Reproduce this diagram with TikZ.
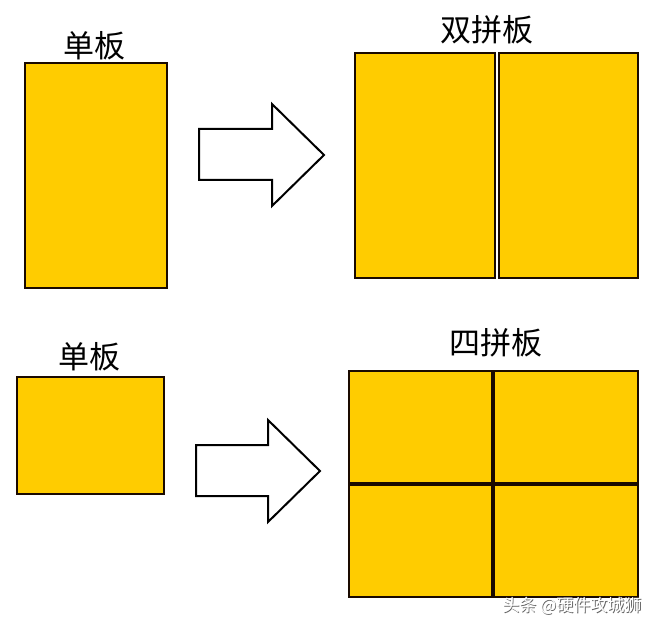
\documentclass[tikz,border=0pt]{standalone}
\usepackage{fontspec}
\newfontfamily\cjk{Noto Sans CJK SC}
\definecolor{board}{HTML}{FFCC00}
\definecolor{edge}{HTML}{1A0A00}
\begin{document}
\begin{tikzpicture}[x=1pt,y=-1pt,
  boardbox/.style={draw=edge,line width=2pt,fill=board},
  label/.style={font=\cjk\fontsize{31}{31}\selectfont,inner sep=0pt,anchor=center},
  bigarrow/.style={draw=black,line width=2pt,fill=white,line join=miter},
  wmark/.style={font=\cjk\fontsize{17}{17}\selectfont,inner sep=0pt}]
\useasboundingbox[fill=white] (0,0) rectangle (656,628);
% top row
\draw[boardbox] (25,63) rectangle (167,288);
\node[label] (l1) at (94,46) {单板};
\draw[bigarrow] (199,129) -- (272,129) -- (272,104) -- (324,155) -- (272,206) -- (272,180) -- (199,180) -- cycle;
\draw[boardbox] (355,53) rectangle (495,278);
\draw[boardbox] (499,53) rectangle (638,278);
\node[label] (l2) at (487,30) {双拼板};
% bottom row
\draw[boardbox] (17,377) rectangle (164,494);
\node[label] (l3) at (89,357) {单板};
\draw[bigarrow] (196,445) -- (268,445) -- (268,420) -- (320,471) -- (268,522) -- (268,496) -- (196,496) -- cycle;
\draw[boardbox] (349,371) rectangle (492,483);
\draw[boardbox] (494,371) rectangle (638,483);
\draw[boardbox] (349,485) rectangle (492,597);
\draw[boardbox] (494,485) rectangle (638,597);
\node[label] (l4) at (496,343) {四拼板};
% watermark
\node[wmark,text=black!60] (wm0) at (572.8,606.8) {头条 @硬件攻城狮};
\node[wmark,text=white] (wm) at (572,606) {头条 @硬件攻城狮};
\end{tikzpicture}
\end{document}
